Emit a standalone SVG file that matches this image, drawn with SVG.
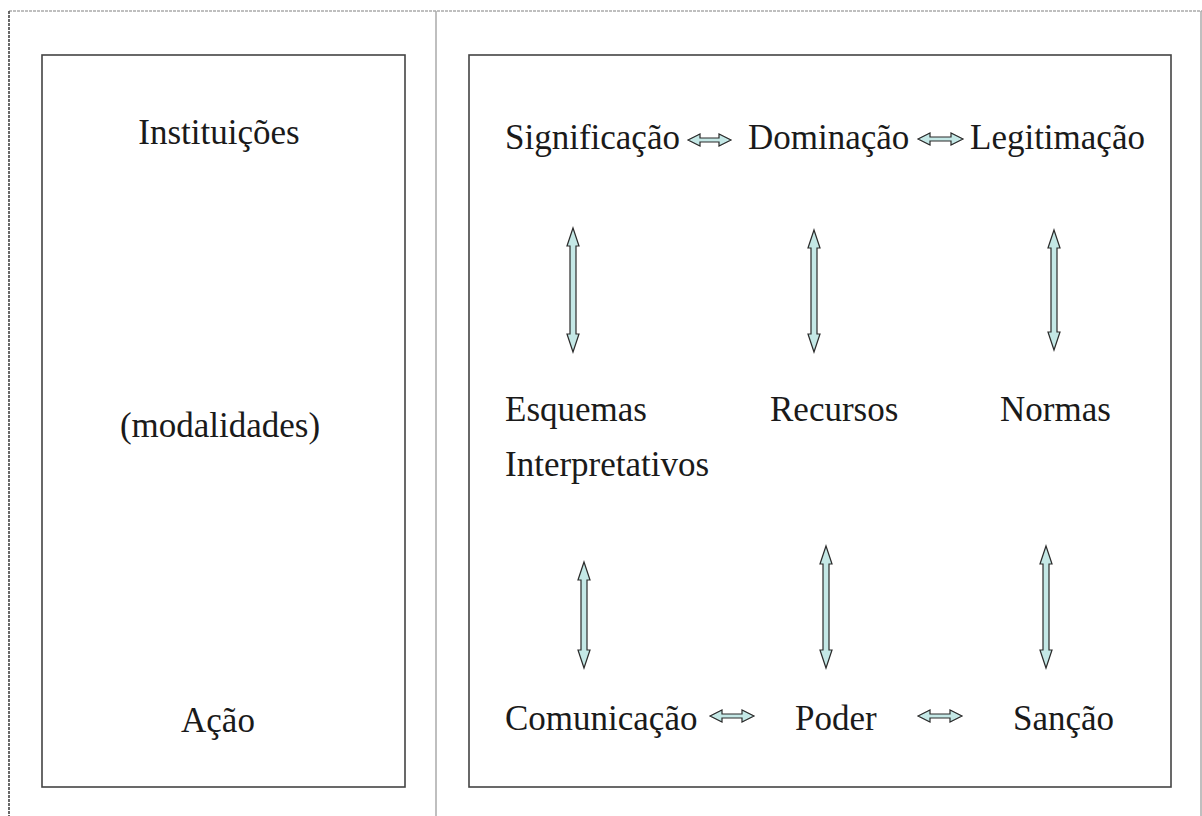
<svg xmlns="http://www.w3.org/2000/svg" width="1202" height="816" viewBox="0 0 1202 816">
<style>
.t{font-family:"Liberation Serif","Times New Roman",serif;font-size:35px;fill:#1a1a1a}
.box{fill:none;stroke:#444;stroke-width:1.6}
.arr{fill:#c4e8e6;stroke:#2a2a2a;stroke-width:1.2;stroke-linejoin:miter}
.frame{stroke:#aaa;stroke-width:1.5;fill:none}
</style>
<rect width="1202" height="816" fill="#fff"/>
<g id="frame">
<line class="frame" x1="9" y1="11" x2="1202" y2="11" stroke-dasharray="3 1"/>
<line x1="9" y1="11" x2="9" y2="816" stroke="#444" stroke-width="1.6" stroke-dasharray="3 1"/>
<line class="frame" x1="436" y1="11" x2="436" y2="816" stroke="#bbb"/>
<line class="frame" x1="1201" y1="11" x2="1201" y2="816" stroke="#bbb"/>
</g>
<g id="left-box">
<rect class="box" x="42" y="55" width="363" height="732"/>
</g>
<g id="right-box">
<rect class="box" x="469" y="55" width="702" height="732"/>
</g>
<g id="instituicoes"><text class="t" x="219" y="144" text-anchor="middle">Instituições</text></g>
<g id="modalidades"><text class="t" x="220" y="437" text-anchor="middle">(modalidades)</text></g>
<g id="acao"><text class="t" x="218" y="732" text-anchor="middle">Ação</text></g>
<g id="significacao"><text class="t" x="505" y="149">Significação</text></g>
<g id="dominacao"><text class="t" x="748" y="149">Dominação</text></g>
<g id="legitimacao"><text class="t" x="970" y="149">Legitimação</text></g>
<g id="esquemas"><text class="t" x="505" y="421">Esquemas</text><text class="t" x="505" y="476">Interpretativos</text></g>
<g id="recursos"><text class="t" x="770" y="421">Recursos</text></g>
<g id="normas"><text class="t" x="1000" y="421">Normas</text></g>
<g id="comunicacao"><text class="t" x="505" y="730">Comunicação</text></g>
<g id="poder"><text class="t" x="795" y="730">Poder</text></g>
<g id="sancao"><text class="t" x="1013" y="730">Sanção</text></g>
<g id="connectors">
<path class="arr" d="M688,140 L700,134 L700,138 L719,138 L719,134 L731,140 L719,146 L719,142 L700,142 L700,146 Z"/>
<path class="arr" d="M918,139 L930,133 L930,137 L951,137 L951,133 L963,139 L951,145 L951,141 L930,141 L930,145 Z"/>
<path class="arr" d="M710,716 L722,710 L722,714 L742,714 L742,710 L754,716 L742,722 L742,718 L722,718 L722,722 Z"/>
<path class="arr" d="M918,716 L930,710 L930,714 L950,714 L950,710 L962,716 L950,722 L950,718 L930,718 L930,722 Z"/>
<path class="arr" d="M573,228 L579,246 L576,246 L576,334 L579,334 L573,352 L567,334 L570,334 L570,246 L567,246 Z"/>
<path class="arr" d="M814,230 L820,248 L817,248 L817,334 L820,334 L814,352 L808,334 L811,334 L811,248 L808,248 Z"/>
<path class="arr" d="M1054,230 L1060,248 L1057,248 L1057,332 L1060,332 L1054,350 L1048,332 L1051,332 L1051,248 L1048,248 Z"/>
<path class="arr" d="M584,562 L590,580 L587,580 L587,650 L590,650 L584,668 L578,650 L581,650 L581,580 L578,580 Z"/>
<path class="arr" d="M826,546 L832,564 L829,564 L829,650 L832,650 L826,668 L820,650 L823,650 L823,564 L820,564 Z"/>
<path class="arr" d="M1046,546 L1052,564 L1049,564 L1049,650 L1052,650 L1046,668 L1040,650 L1043,650 L1043,564 L1040,564 Z"/>
</g>
</svg>
